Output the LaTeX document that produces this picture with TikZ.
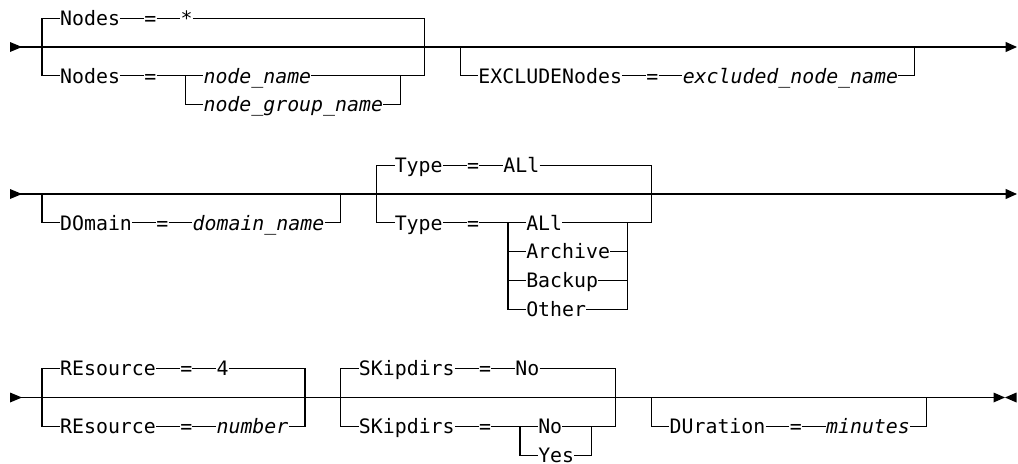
\documentclass[tikz,border=0pt]{standalone}
\usepackage{fontspec}
\setmonofont{DejaVu Sans Mono}
\usepackage{tikz}
\usetikzlibrary{arrows.meta, positioning}
\newcommand{\railfont}{\ttfamily\fontsize{14.9}{18}\selectfont}
\tikzset{
  rail/.style   ={line width=0.9pt, black},
  railend/.style={rail, -{Triangle[length=8.6pt, width=7.5pt]}},
  kw/.style     ={font=\railfont, inner sep=0pt, text height=10.9pt, text depth=0pt},
  var/.style    ={kw, font=\railfont\itshape},
  gap/.style    ={right=17.9pt of #1},
}

\begin{document}
\begin{tikzpicture}[x=0.75pt, y=-0.75pt]
  \useasboundingbox (0,0) rectangle (1018,464);

  % --- Nodes / EXCLUDENodes
  \coordinate (r1s) at (16,47);   \coordinate (r1e) at (1017,47);
  \coordinate (aL) at (42,47);    \coordinate (aR) at (424.4,47);
  \coordinate (chAl) at (185.4,75.8); \coordinate (chAr) at (400.5,75.8);
  \coordinate (bL) at (460.25,47); \coordinate (bR) at (914.35,47);
  \node[kw, anchor=west] (nodesT) at (59.9,18.2) {Nodes};
  \node[kw, gap=nodesT] (nodesTeq) {=};
  \node[kw, gap=nodesTeq] (star) {*};
  \node[kw, anchor=west] (nodesB) at (59.9,75.8) {Nodes};
  \node[kw, gap=nodesB] (nodesBeq) {=};
  \node[var, anchor=west] (nname) at (203.3,75.8) {node\_name};
  \node[var, anchor=west] (ngname) at (203.3,104.6) {node\_group\_name};
  \node[kw, anchor=west] (exkw) at (478.2,75.8) {EXCLUDENodes};
  \node[kw, gap=exkw] (exeq) {=};
  \node[var, gap=exeq] (exval) {excluded\_node\_name};
  \fill (10,42) -- (22,47) -- (10,52) -- cycle;
  \draw[railend] (r1s) -- (r1e);
  \draw[rail] (aL) |- (nodesT) -- (nodesTeq) -- (star) -| (aR);
  \draw[rail] (aL) |- (nodesB) -- (nodesBeq) -- (nname) -| (aR);
  \draw[rail] (chAl) |- (ngname) -| (chAr);
  \draw[rail] (bL) |- (exkw) -- (exeq) -- (exval) -| (bR);

  % --- DOmain / Type
  \coordinate (r2s) at (16,194);  \coordinate (r2e) at (1017,194);
  \coordinate (cL) at (42,194);   \coordinate (cR) at (340.75,194);
  \coordinate (dL) at (376.6,194); \coordinate (dR) at (651.45,194);
  \coordinate (chBl) at (508,222.8); \coordinate (chBr) at (627.55,222.8);
  \node[kw, anchor=west] (domkw) at (59.9,222.8) {DOmain};
  \node[kw, gap=domkw] (domeq) {=};
  \node[var, gap=domeq] (domval) {domain\_name};
  \node[kw, anchor=west] (typeT) at (394.5,165.2) {Type};
  \node[kw, gap=typeT] (typeTeq) {=};
  \node[kw, gap=typeTeq] (allT) {ALl};
  \node[kw, anchor=west] (typeB) at (394.5,222.8) {Type};
  \node[kw, gap=typeB] (typeBeq) {=};
  \node[kw, anchor=west] (allB) at (526,222.8) {ALl};
  \node[kw, anchor=west] (archive) at (526,251.6) {Archive};
  \node[kw, anchor=west] (backup) at (526,280.4) {Backup};
  \node[kw, anchor=west] (other) at (526,309.2) {Other};
  \fill (10,189) -- (22,194) -- (10,199) -- cycle;
  \draw[railend] (r2s) -- (r2e);
  \draw[rail] (cL) |- (domkw) -- (domeq) -- (domval) -| (cR);
  \draw[rail] (dL) |- (typeT) -- (typeTeq) -- (allT) -| (dR);
  \draw[rail] (dL) |- (typeB) -- (typeBeq) -- (allB) -| (dR);
  \draw[rail] (chBl) |- (archive) -| (chBr);
  \draw[rail] (chBl) |- (backup) -| (chBr);
  \draw[rail] (chBl) |- (other) -| (chBr);

  % --- REsource / SKipdirs / DUration
  \coordinate (r3s) at (16,397.5);  \coordinate (r3e) at (993.5,397.5);
  \coordinate (eL) at (42,397.5);   \coordinate (eR) at (304.9,397.5);
  \coordinate (fL) at (340.75,397.5); \coordinate (fR) at (615.6,397.5);
  \coordinate (chCl) at (520,426.3); \coordinate (chCr) at (591.7,426.3);
  \coordinate (gL) at (651.45,397.5); \coordinate (gR) at (926.3,397.5);
  \node[kw, anchor=west] (resT) at (59.9,368.7) {REsource};
  \node[kw, gap=resT] (resTeq) {=};
  \node[kw, gap=resTeq] (four) {4};
  \node[kw, anchor=west] (resB) at (59.9,426.3) {REsource};
  \node[kw, gap=resB] (resBeq) {=};
  \node[var, gap=resBeq] (number) {number};
  \node[kw, anchor=west] (skT) at (358.7,368.7) {SKipdirs};
  \node[kw, gap=skT] (skTeq) {=};
  \node[kw, gap=skTeq] (noT) {No};
  \node[kw, anchor=west] (skB) at (358.7,426.3) {SKipdirs};
  \node[kw, gap=skB] (skBeq) {=};
  \node[kw, anchor=west] (noB) at (538,426.3) {No};
  \node[kw, anchor=west] (yes) at (538,455.1) {Yes};
  \node[kw, anchor=west] (durkw) at (669.4,426.3) {DUration};
  \node[kw, gap=durkw] (dureq) {=};
  \node[var, gap=dureq] (minutes) {minutes};
  \fill (10,392.5) -- (22,397.5) -- (10,402.5) -- cycle;
  \draw[rail] (r3s) -- (r3e);
  \fill (993.5,392.5) -- (1005,397.5) -- (993.5,402.5) -- cycle;
  \fill (1016.5,392.5) -- (1005,397.5) -- (1016.5,402.5) -- cycle;
  \draw[rail] (eL) |- (resT) -- (resTeq) -- (four) -| (eR);
  \draw[rail] (eL) |- (resB) -- (resBeq) -- (number) -| (eR);
  \draw[rail] (fL) |- (skT) -- (skTeq) -- (noT) -| (fR);
  \draw[rail] (fL) |- (skB) -- (skBeq) -- (noB) -| (fR);
  \draw[rail] (chCl) |- (yes) -| (chCr);
  \draw[rail] (gL) |- (durkw) -- (dureq) -- (minutes) -| (gR);
\end{tikzpicture}
\end{document}
